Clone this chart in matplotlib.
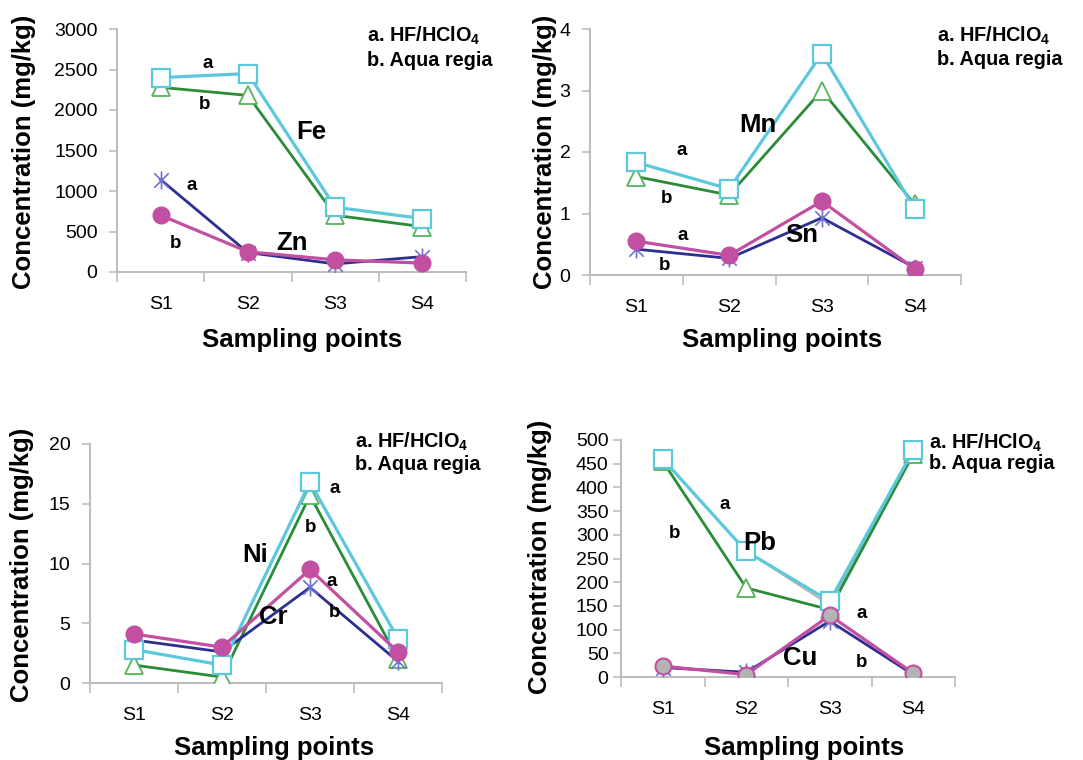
import matplotlib
matplotlib.use("Agg")
import matplotlib.pyplot as plt
from matplotlib.path import Path

plt.rcParams['font.family'] = ['Liberation Sans', 'DejaVu Sans']
plt.rcParams['mathtext.fontset'] = 'custom'
plt.rcParams['mathtext.rm'] = 'Liberation Sans:bold'
plt.rcParams['mathtext.bf'] = 'Liberation Sans:bold'

# ---------------- data ----------------
sites = ["S1", "S2", "S3", "S4"]

fe_a = [2400, 2450, 800, 660]
fe_b = [2280, 2180, 700, 560]
zn_a = [1140, 240, 100, 190]
zn_b = [700, 250, 150, 110]

mn_a = [1.83, 1.40, 3.60, 1.08]
mn_b = [1.60, 1.30, 3.00, 1.15]
sn_a = [0.55, 0.32, 1.20, 0.10]
sn_b = [0.42, 0.27, 0.93, 0.12]

ni_a = [2.8, 1.5, 16.8, 3.7]
ni_b = [1.5, 0.5, 15.7, 2.0]
cr_a = [4.1, 3.0, 9.5, 2.6]
cr_b = [3.6, 2.6, 8.0, 1.8]

pb_a = [460, 265, 160, 478]
pb_b = [455, 188, 142, 470]
pb_c = [458, 266, 152, 476]
cu_a = [23, 5, 130, 8]
cu_b = [20, 10, 118, 5]

# ---------------- styles ----------------
CYAN = '#5CC8DC'
GREEN_L = '#2A8C36'
GREEN_M = '#55B35A'
NAVY = '#2C2F90'
NAVY_M = '#6E72D2'
MAG = '#C24FA1'
GRAY = '#B4B4B4'
AX = '#BEBEBE'

ast = Path([(-1, -1), (1, 1), (-1, 1), (1, -1), (0, -1.25), (0, 1.25)],
           [Path.MOVETO, Path.LINETO, Path.MOVETO, Path.LINETO, Path.MOVETO, Path.LINETO])

W, H = 1083, 760
fig = plt.figure(figsize=(W / 100, H / 100), dpi=100)


def make_ax(l, r, t, b):
    return fig.add_axes([l / W, 1 - b / H, (r - l) / W, (b - t) / H])


def style(ax, ymax, step, ypad=8, ylab_x=0, ylab_y=0, xlab_x=0, xlab_y=0):
    x = list(range(len(sites)))
    ax.set_xlim(-0.5, 3.5)
    ax.set_ylim(0, ymax)
    ax.set_yticks([i * step for i in range(int(round(ymax / step)) + 1)])
    ax.set_xticks([-0.5, 0.5, 1.5, 2.5, 3.5])
    ax.set_xticklabels([])
    ax.set_xticks(x, minor=True)
    ax.set_xticklabels(sites, minor=True)
    ax.tick_params(axis='x', which='major', length=7, width=1.2, color=AX, direction='out')
    ax.tick_params(axis='x', which='minor', length=0, labelsize=14, pad=17)
    ax.tick_params(axis='y', length=6, width=1.2, color=AX, labelsize=14, pad=ypad)
    for s in ['top', 'right']:
        ax.spines[s].set_visible(False)
    for s in ['left', 'bottom']:
        ax.spines[s].set_color(AX)
        ax.spines[s].set_linewidth(1.5)
    fig.text(ylab_x / W, 1 - ylab_y / H, 'Concentration (mg/kg)', rotation=90,
             fontsize=18.5, fontweight='bold', ha='center', va='center')
    fig.text(xlab_x / W, 1 - xlab_y / H, 'Sampling points',
             fontsize=18.5, fontweight='bold', ha='center', va='center')


def legend_text(ax, fx, fy1, fy2):
    ax.text(fx, fy1, r'a. HF/HClO$_4$', transform=ax.transAxes, fontsize=14.3,
            fontweight='bold', va='center', ha='left', clip_on=False)
    ax.text(fx, fy2, 'b. Aqua regia', transform=ax.transAxes, fontsize=14.3, fontweight='bold',
            va='center', ha='left', clip_on=False)


def sq(ax, y):
    ax.plot(range(4), y, color=CYAN, lw=2.3, marker='s', ms=12.5, mfc='white', mec=CYAN, mew=1.6, zorder=4)


def tri(ax, y):
    ax.plot(range(4), y, color=GREEN_L, lw=2.0, marker='^', ms=12.5, mfc='white', mec=GREEN_M, mew=1.3, zorder=3)


def star(ax, y, z=3):
    ax.plot(range(4), y, color=NAVY, lw=2.0, marker=ast, ms=13, mec=NAVY_M, mew=1.2, zorder=z)


def circ(ax, y, fc=MAG, z=4):
    ax.plot(range(4), y, color=MAG, lw=2.3, marker='o', ms=11.5, mfc=fc, mec=MAG, mew=1.5, zorder=z)


def lab(ax, x, y, s, size=13.5):
    ax.text(x, y, s, fontsize=size, fontweight='bold', ha='center', va='center', zorder=10)


EL = 18.5

# ---- top-left: Fe / Zn
ax1 = make_ax(117, 466, 29, 272)
style(ax1, 3000, 500, ylab_x=24, ylab_y=152, xlab_x=302, xlab_y=340)
tri(ax1, fe_b)
sq(ax1, fe_a)
star(ax1, zn_a)
circ(ax1, zn_b)
lab(ax1, 0.545, 2580, 'a')
lab(ax1, 0.50, 2074, 'b')
lab(ax1, 1.73, 1728, 'Fe', EL)
lab(ax1, 0.36, 1074, 'a')
lab(ax1, 0.17, 358, 'b')
lab(ax1, 1.51, 358, 'Zn', EL)
legend_text(ax1, 0.716, 0.971, 0.872)

# ---- top-right: Mn / Sn
ax2 = make_ax(590, 961, 29, 275)
style(ax2, 4, 1, ylab_x=545, ylab_y=152, xlab_x=782, xlab_y=340)
tri(ax2, mn_b)
sq(ax2, mn_a)
star(ax2, sn_b)
circ(ax2, sn_a)
lab(ax2, 0.49, 2.03, 'a')
lab(ax2, 0.32, 1.24, 'b')
lab(ax2, 1.31, 2.44, 'Mn', EL)
lab(ax2, 0.50, 0.65, 'a')
lab(ax2, 0.30, 0.16, 'b')
lab(ax2, 1.78, 0.65, 'Sn', EL)
legend_text(ax2, 0.935, 0.972, 0.874)

# ---- bottom-left: Ni / Cr
ax3 = make_ax(90, 442, 444, 683)
style(ax3, 20, 5, ylab_x=22, ylab_y=565, xlab_x=274, xlab_y=748)
tri(ax3, ni_b)
sq(ax3, ni_a)
star(ax3, cr_b)
circ(ax3, cr_a)
lab(ax3, 2.28, 16.3, 'a')
lab(ax3, 2.01, 13.05, 'b')
lab(ax3, 1.375, 10.7, 'Ni', EL)
lab(ax3, 2.25, 8.5, 'a')
lab(ax3, 2.28, 5.86, 'b')
lab(ax3, 1.58, 5.5, 'Cr', EL)
legend_text(ax3, 0.753, 1.008, 0.916)

# ---- bottom-right: Pb / Cu
ax4 = make_ax(621, 955, 440, 677)
style(ax4, 500, 50, ypad=3, ylab_x=540, ylab_y=557, xlab_x=804, xlab_y=748)
ax4.plot(range(4), pb_c, color=GRAY, lw=1.5, marker='+', ms=12, mew=2, zorder=2)
tri(ax4, pb_b)
sq(ax4, pb_a)
star(ax4, cu_b)
circ(ax4, cu_a, fc=GRAY)
lab(ax4, 0.74, 363, 'a')
lab(ax4, 0.14, 302, 'b')
lab(ax4, 1.16, 283, 'Pb', EL)
lab(ax4, 2.38, 135, 'a')
lab(ax4, 2.38, 30, 'b')
lab(ax4, 1.64, 40, 'Cu', EL)
legend_text(ax4, 0.922, 0.99, 0.90)

fig.savefig('out.png', dpi=100)
